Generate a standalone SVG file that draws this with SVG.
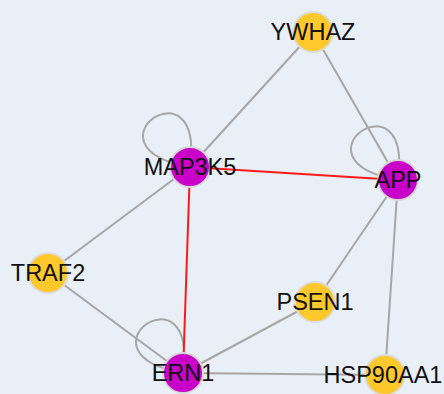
<svg xmlns="http://www.w3.org/2000/svg" width="444" height="394" viewBox="0 0 444 394">
<style>
.e{stroke:#a6a6a6;stroke-width:2;fill:none}
.r{stroke:#ff1a1a;stroke-width:2;fill:none}
.p{fill:#c800c8;stroke:#d8d8d8;stroke-width:2}
.y{fill:#ffc82c;stroke:#dcdcdc;stroke-width:2}
text{font-family:"Liberation Sans",Arial,sans-serif;font-size:23.5px;fill:#111;text-anchor:middle}
</style>
<rect width="444" height="394" fill="#e8eff6"/>
<g id="connectors">
<line class="e" x1="313" y1="32" x2="190" y2="167"/>
<line class="e" x1="313" y1="32" x2="398" y2="180"/>
<line class="e" x1="190" y1="167" x2="48" y2="273"/>
<line class="e" x1="48" y1="273" x2="183" y2="373"/>
<line class="e" x1="183" y1="373" x2="315" y2="302"/>
<line class="e" x1="183" y1="373" x2="385" y2="375"/>
<line class="e" x1="315" y1="302" x2="398" y2="180"/>
<line class="e" x1="398" y1="180" x2="385" y2="375"/>
<path class="e" d="M190,167 C77,147 205,57 190,167"/>
<path class="e" d="M398,180 C285,160 413,70 398,180"/>
<path class="e" d="M183,373 C70,353 198,263 183,373"/>
<line class="r" x1="190" y1="167" x2="398" y2="180"/>
<line class="r" x1="190" y1="167" x2="183" y2="373"/>
</g>
<g id="YWHAZ"><circle class="y" cx="313" cy="32" r="20"/><text x="313" y="40">YWHAZ</text></g>
<g id="MAP3K5"><circle class="p" cx="190" cy="167" r="20"/><text x="190" y="175">MAP3K5</text></g>
<g id="APP"><circle class="p" cx="398" cy="180" r="20"/><text x="398" y="188">APP</text></g>
<g id="TRAF2"><circle class="y" cx="48" cy="273" r="20"/><text x="48" y="281">TRAF2</text></g>
<g id="PSEN1"><circle class="y" cx="315" cy="302" r="20"/><text x="315" y="310">PSEN1</text></g>
<g id="ERN1"><circle class="p" cx="183" cy="373" r="20"/><text x="183" y="381">ERN1</text></g>
<g id="HSP90AA1"><circle class="y" cx="385" cy="375" r="20"/><text x="383" y="383">HSP90AA1</text></g>
</svg>
